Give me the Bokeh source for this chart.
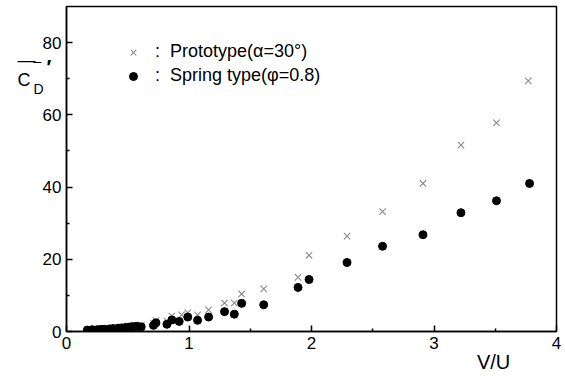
from bokeh.plotting import figure
from bokeh.models import Label, Legend, LegendItem, Range1d, FixedTicker
from bokeh.embed import file_html
from bokeh.resources import INLINE

# ---- data ----
proto_x = [0.17, 0.25, 0.31, 0.38, 0.45, 0.51, 0.56, 0.61, 0.71, 0.73, 0.82, 0.86, 0.94, 0.99,
           1.07, 1.16, 1.29, 1.37, 1.43, 1.61, 1.89, 1.98, 2.29, 2.58, 2.91, 3.22, 3.51, 3.77]
proto_y = [0.5, 0.6, 0.8, 1.0, 1.3, 1.5, 1.8, 1.7, 2.3, 3.0, 2.9, 4.3, 4.6, 5.2,
           4.6, 6.0, 7.9, 7.9, 10.4, 11.8, 15.0, 21.1, 26.4, 33.2, 41.0, 51.6, 57.8, 69.4]

spring_x = [0.17, 0.21, 0.25, 0.28, 0.31, 0.35, 0.38, 0.42, 0.45, 0.48, 0.51, 0.53, 0.56, 0.58,
            0.61, 0.71, 0.73, 0.82, 0.86, 0.92, 0.99, 1.07, 1.16, 1.29, 1.37, 1.43, 1.61, 1.89,
            1.98, 2.29, 2.58, 2.91, 3.22, 3.51, 3.78]
spring_y = [0.4, 0.5, 0.5, 0.6, 0.6, 0.7, 0.8, 0.9, 1.0, 1.1, 1.2, 1.3, 1.4, 1.4,
            1.3, 1.7, 2.4, 2.0, 3.2, 2.8, 4.0, 3.1, 4.0, 5.5, 4.8, 7.8, 7.4, 12.2,
            14.4, 19.1, 23.6, 26.8, 32.9, 36.2, 41.0]

x_ticks = [0, 1, 2, 3, 4]
y_ticks = [0, 20, 40, 60, 80]
x_minor = [0.5, 1.5, 2.5, 3.5]
y_minor = [10, 30, 50, 70]

label_proto = ":  Prototype(\u03b1=30\u00b0)"
label_spring = ":  Spring type(\u03c6=0.8)"

FONT = "Liberation Sans"

p = figure(width=565, height=376, output_backend="svg", toolbar_location=None,
           x_range=Range1d(0, 4), y_range=Range1d(0, 90),
           min_border_left=66, min_border_right=9, min_border_top=6, min_border_bottom=45)
p.background_fill_color = "white"
p.border_fill_color = "white"
p.grid.visible = False
p.outline_line_color = "black"
p.outline_line_width = 1.5

for ax in (p.xaxis[0], p.yaxis[0]):
    ax.axis_line_width = 1.5
    ax.axis_line_color = "black"
    ax.major_tick_in = 6
    ax.major_tick_out = 0
    ax.minor_tick_in = 3
    ax.minor_tick_out = 0
    ax.major_tick_line_width = 1.5
    ax.minor_tick_line_width = 1.5
    ax.major_label_text_font = FONT
    ax.major_label_text_font_size = "17px"
    ax.major_label_text_color = "black"
    ax.major_label_standoff = 5

p.xaxis[0].ticker = FixedTicker(ticks=x_ticks, minor_ticks=x_minor)
p.yaxis[0].ticker = FixedTicker(ticks=y_ticks, minor_ticks=y_minor)

r_proto = p.scatter(proto_x, proto_y, marker="x", size=9, line_color="#8a8a8a", line_width=1.1)
r_spring = p.scatter(spring_x, spring_y, marker="circle", size=8, fill_color="black", line_color="black")

legend = Legend(items=[LegendItem(label=label_proto, renderers=[r_proto]),
                       LegendItem(label=label_spring, renderers=[r_spring])],
                location=(57, 245), orientation="vertical",
                border_line_color=None, background_fill_alpha=0,
                padding=0, margin=0, spacing=3,
                glyph_width=20, glyph_height=20, label_height=20, label_standoff=12,
                label_text_font=FONT, label_text_font_size="18px", label_text_color="black")
p.add_layout(legend, "center")

# y-axis label: overline C_D with a prime mark (left side panel; stacked lines keep it narrow)
p.add_layout(Label(x=-0.40, y=77.84, text="\u2014\nC", text_font=FONT, text_font_size="18px",
                   text_color="black", text_baseline="top", text_line_height=0.98), "left")
p.add_layout(Label(x=-0.269, y=77.12, text="\u2013\nD", text_font=FONT, text_font_size="14px",
                   text_color="black", text_baseline="top", text_line_height=1.77), "left")
p.add_layout(Label(x=-0.164, y=73.3, text="\u2032", text_font=FONT, text_font_size="20px",
                   text_font_style="bold", text_color="black", text_baseline="alphabetic"), "left")

# x-axis label (bottom side panel)
p.add_layout(Label(x=3.35, y=-8.4, text="V/U", text_font=FONT, text_font_size="20px",
                   text_color="black", text_baseline="alphabetic"), "below")

open("out.html", "w").write(file_html(p, INLINE))
